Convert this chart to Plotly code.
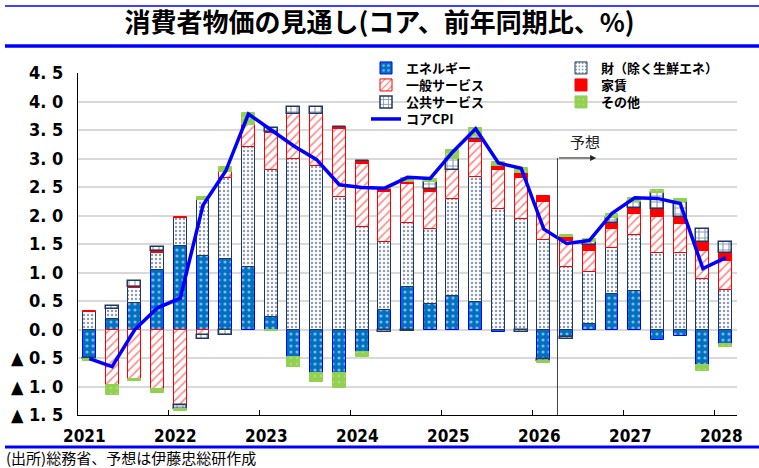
import plotly.graph_objects as go

quarters = [f"{y}Q{q}" for y in range(2021, 2029) for q in range(1, 5)][:29]

energy   = [-0.50, 0.19, 0.46, 1.05, 1.47, 1.29, 1.23, 1.09, 0.22, -0.48, -0.76, -0.77, -0.39, 0.35, 0.74, 0.44,
            0.59, 0.49, -0.04, -0.01, -0.51, -0.14, 0.09, 0.63, 0.68, -0.18, -0.12, -0.63, -0.26]
goods    = [0.30, 0.17, 0.26, 0.30, 0.48, 0.98, 1.42, 2.12, 2.58, 3.00, 2.86, 2.32, 1.80, 1.19, 1.12, 1.33,
            1.70, 2.18, 2.11, 1.93, 1.57, 1.10, 0.92, 0.80, 0.98, 1.35, 1.34, 0.88, 0.70]
services = [0.00, -0.97, -0.86, -1.05, -1.33, -0.10, 0.11, 0.38, 0.64, 0.78, 0.92, 1.20, 1.10, 0.88, 0.69, 0.64,
            0.51, 0.62, 0.69, 0.72, 0.67, 0.46, 0.37, 0.34, 0.36, 0.63, 0.51, 0.50, 0.50]
rent     = [0.03, 0.00, 0.02, 0.03, 0.03, 0.00, 0.00, 0.00, 0.02, 0.00, 0.00, 0.04, 0.05, 0.04, 0.04, 0.05,
            0.00, 0.05, 0.06, 0.09, 0.10, 0.07, 0.10, 0.09, 0.11, 0.13, 0.13, 0.16, 0.15]
public   = [-0.02, 0.06, 0.11, 0.07, -0.07, -0.07, -0.10, 0.00, 0.07, 0.12, 0.13, 0.00, 0.00, -0.05, -0.03, 0.13,
            0.20, 0.06, 0.00, -0.04, -0.04, -0.03, 0.06, 0.09, 0.11, 0.29, 0.26, 0.23, 0.19]
other    = [-0.03, -0.18, -0.05, -0.06, -0.03, 0.06, 0.09, 0.21, -0.02, -0.18, -0.16, -0.26, -0.09, 0.00, 0.06, 0.05,
            0.15, 0.13, 0.07, 0.09, -0.04, 0.03, 0.04, 0.08, 0.06, 0.05, 0.05, -0.10, -0.05]
core_cpi = [-0.51, -0.65, 0.00, 0.38, 0.55, 2.18, 2.78, 3.78, 3.50, 3.22, 2.98, 2.54, 2.49, 2.48, 2.67, 2.65,
            3.12, 3.52, 2.92, 2.83, 1.76, 1.51, 1.56, 2.04, 2.31, 2.30, 2.21, 1.07, 1.26]

years = ["2021", "2022", "2023", "2024", "2025", "2026", "2027", "2028"]
ytick_vals = [-1.5, -1.0, -0.5, 0.0, 0.5, 1.0, 1.5, 2.0, 2.5, 3.0, 3.5, 4.0, 4.5]
ytick_text = ["▲ 1. 5", "▲ 1. 0", "▲ 0. 5", "0. 0", "0. 5", "1. 0", "1. 5", "2. 0", "2. 5", "3. 0", "3. 5", "4. 0", "4. 5"]

xs = list(range(len(quarters)))

NAVY = "#1F3864"
BLUE = "#0070C0"
RED = "#FF0000"
GREEN = "#92D050"
JP = "Noto Sans CJK JP"
NUM = "Liberation Sans Narrow, DejaVu Sans Condensed, Arial Narrow, sans-serif"


def px_x(p):
    return (p - 78) / 659.0


def px_y(p):
    return (415 - p) / 342.0


fig = go.Figure()
bw = 0.57


def bar(name, vals, bg, fg, shape, size, solid, line, legend, lw=1):
    m = dict(color=bg, line=dict(color=line, width=lw))
    if shape:
        m["pattern"] = dict(shape=shape, bgcolor=bg, fgcolor=fg, size=size, solidity=solid, fillmode="overlay")
    fig.add_trace(go.Bar(x=xs, y=vals, name=name, width=bw, marker=m, legend=legend))


bar("エネルギー", energy, BLUE, "#FFFFFF", ".", 6, 0.22, "#0000FF", "legend")
bar("財（除く生鮮エネ）", goods, "#FFFFFF", NAVY, ".", 4, 0.3, NAVY, "legend5")
bar("一般サービス", services, "#FFFFFF", RED, "/", 6, 0.25, RED, "legend2")
bar("家賃", rent, RED, RED, "", 0, 0, RED, "legend6")
bar("公共サービス", public, "#FFFFFF", NAVY, "+", 6, 0.35, NAVY, "legend3", 1.5)
bar("その他", other, GREEN, "#C8E8A0", ".", 6, 0.15, GREEN, "legend7")

fig.add_trace(go.Scatter(x=xs, y=core_cpi, mode="lines", name="コアCPI",
                         line=dict(color="#0000FF", width=3.5), legend="legend4"))

# forecast marker
fx = 20.6
fig.add_shape(type="line", x0=fx, x1=fx, y0=-1.5, y1=3.01, xref="x", yref="y",
              line=dict(color="#404040", width=1))
fig.add_annotation(x=22.3, y=3.01, ax=fx, ay=3.01, xref="x", yref="y", axref="x", ayref="y",
                   showarrow=True, arrowhead=2, arrowsize=1.2, arrowwidth=1, arrowcolor="#202020", text="")
fig.add_annotation(x=21.8, y=3.29, xref="x", yref="y", text="予想", showarrow=False,
                   font=dict(family=JP, size=15, color="#202020"))

# year labels
for i, yl in enumerate(years):
    fig.add_annotation(x=4 * i - 0.2, y=px_y(436), xref="x", yref="paper", text=yl, showarrow=False,
                       yanchor="middle", font=dict(family=NUM, size=17, color="#000000", weight="bold"))

# frame lines
fig.add_shape(type="line", xref="paper", yref="paper", x0=px_x(5), x1=px_x(759), y0=px_y(6), y1=px_y(6),
              line=dict(color="#0000FF", width=1.5))
fig.add_shape(type="line", xref="paper", yref="paper", x0=px_x(5), x1=px_x(759), y0=px_y(46), y1=px_y(46),
              line=dict(color="#0000FF", width=3.5))
fig.add_shape(type="line", xref="paper", yref="paper", x0=px_x(5), x1=px_x(759), y0=px_y(447), y1=px_y(447),
              line=dict(color="#0000FF", width=3))

fig.add_annotation(x=px_x(4), y=px_y(457), xref="paper", yref="paper", xanchor="left", yanchor="middle",
                   text="(出所)総務省、予想は伊藤忠総研作成", showarrow=False,
                   font=dict(family=JP, size=15, color="#000000"))

legfont = dict(family=JP, size=13, color="#000000", weight="bold")


def leg(xp, yp):
    return dict(x=px_x(xp), y=px_y(yp), xanchor="left", yanchor="top", orientation="v",
                bgcolor="rgba(0,0,0,0)", font=legfont, itemwidth=30)


fig.update_layout(
    width=759, height=468,
    margin=dict(l=78, r=22, t=73, b=53),
    paper_bgcolor="white", plot_bgcolor="white",
    barmode="relative", bargap=0,
    showlegend=True,
    title=dict(text="消費者物価の見通し(コア、前年同期比、%)", x=0.5, xref="container", xanchor="center",
               y=1 - 23 / 468, yref="container", yanchor="middle",
               font=dict(family=JP, size=26, color="#000000", weight="bold")),
    legend=leg(366, 53),
    legend2=leg(366, 70),
    legend3=leg(366, 87),
    legend4=leg(366, 104),
    legend5=leg(561, 53),
    legend6=leg(561, 70),
    legend7=leg(561, 87),
    xaxis=dict(range=[-0.5, 28.5], tickvals=[3.5 + 4 * k for k in range(7)], showticklabels=False,
               ticks="inside", ticklen=5, tickcolor="#000000", showline=True, linecolor="#000000",
               linewidth=1, showgrid=False, zeroline=False),
    yaxis=dict(range=[-1.5, 4.5], tickvals=ytick_vals, ticktext=ytick_text, showgrid=True,
               gridcolor="#D9D9D9", gridwidth=1.5, zeroline=False, showline=True, linecolor="#000000",
               linewidth=1, ticks="outside", ticklen=10, tickcolor="rgba(0,0,0,0)",
               tickfont=dict(family=NUM, size=18, color="#000000", weight="bold")),
)

fig.write_html("out.html", config={"displayModeBar": False},
               post_script="document.body.style.margin='0';")
